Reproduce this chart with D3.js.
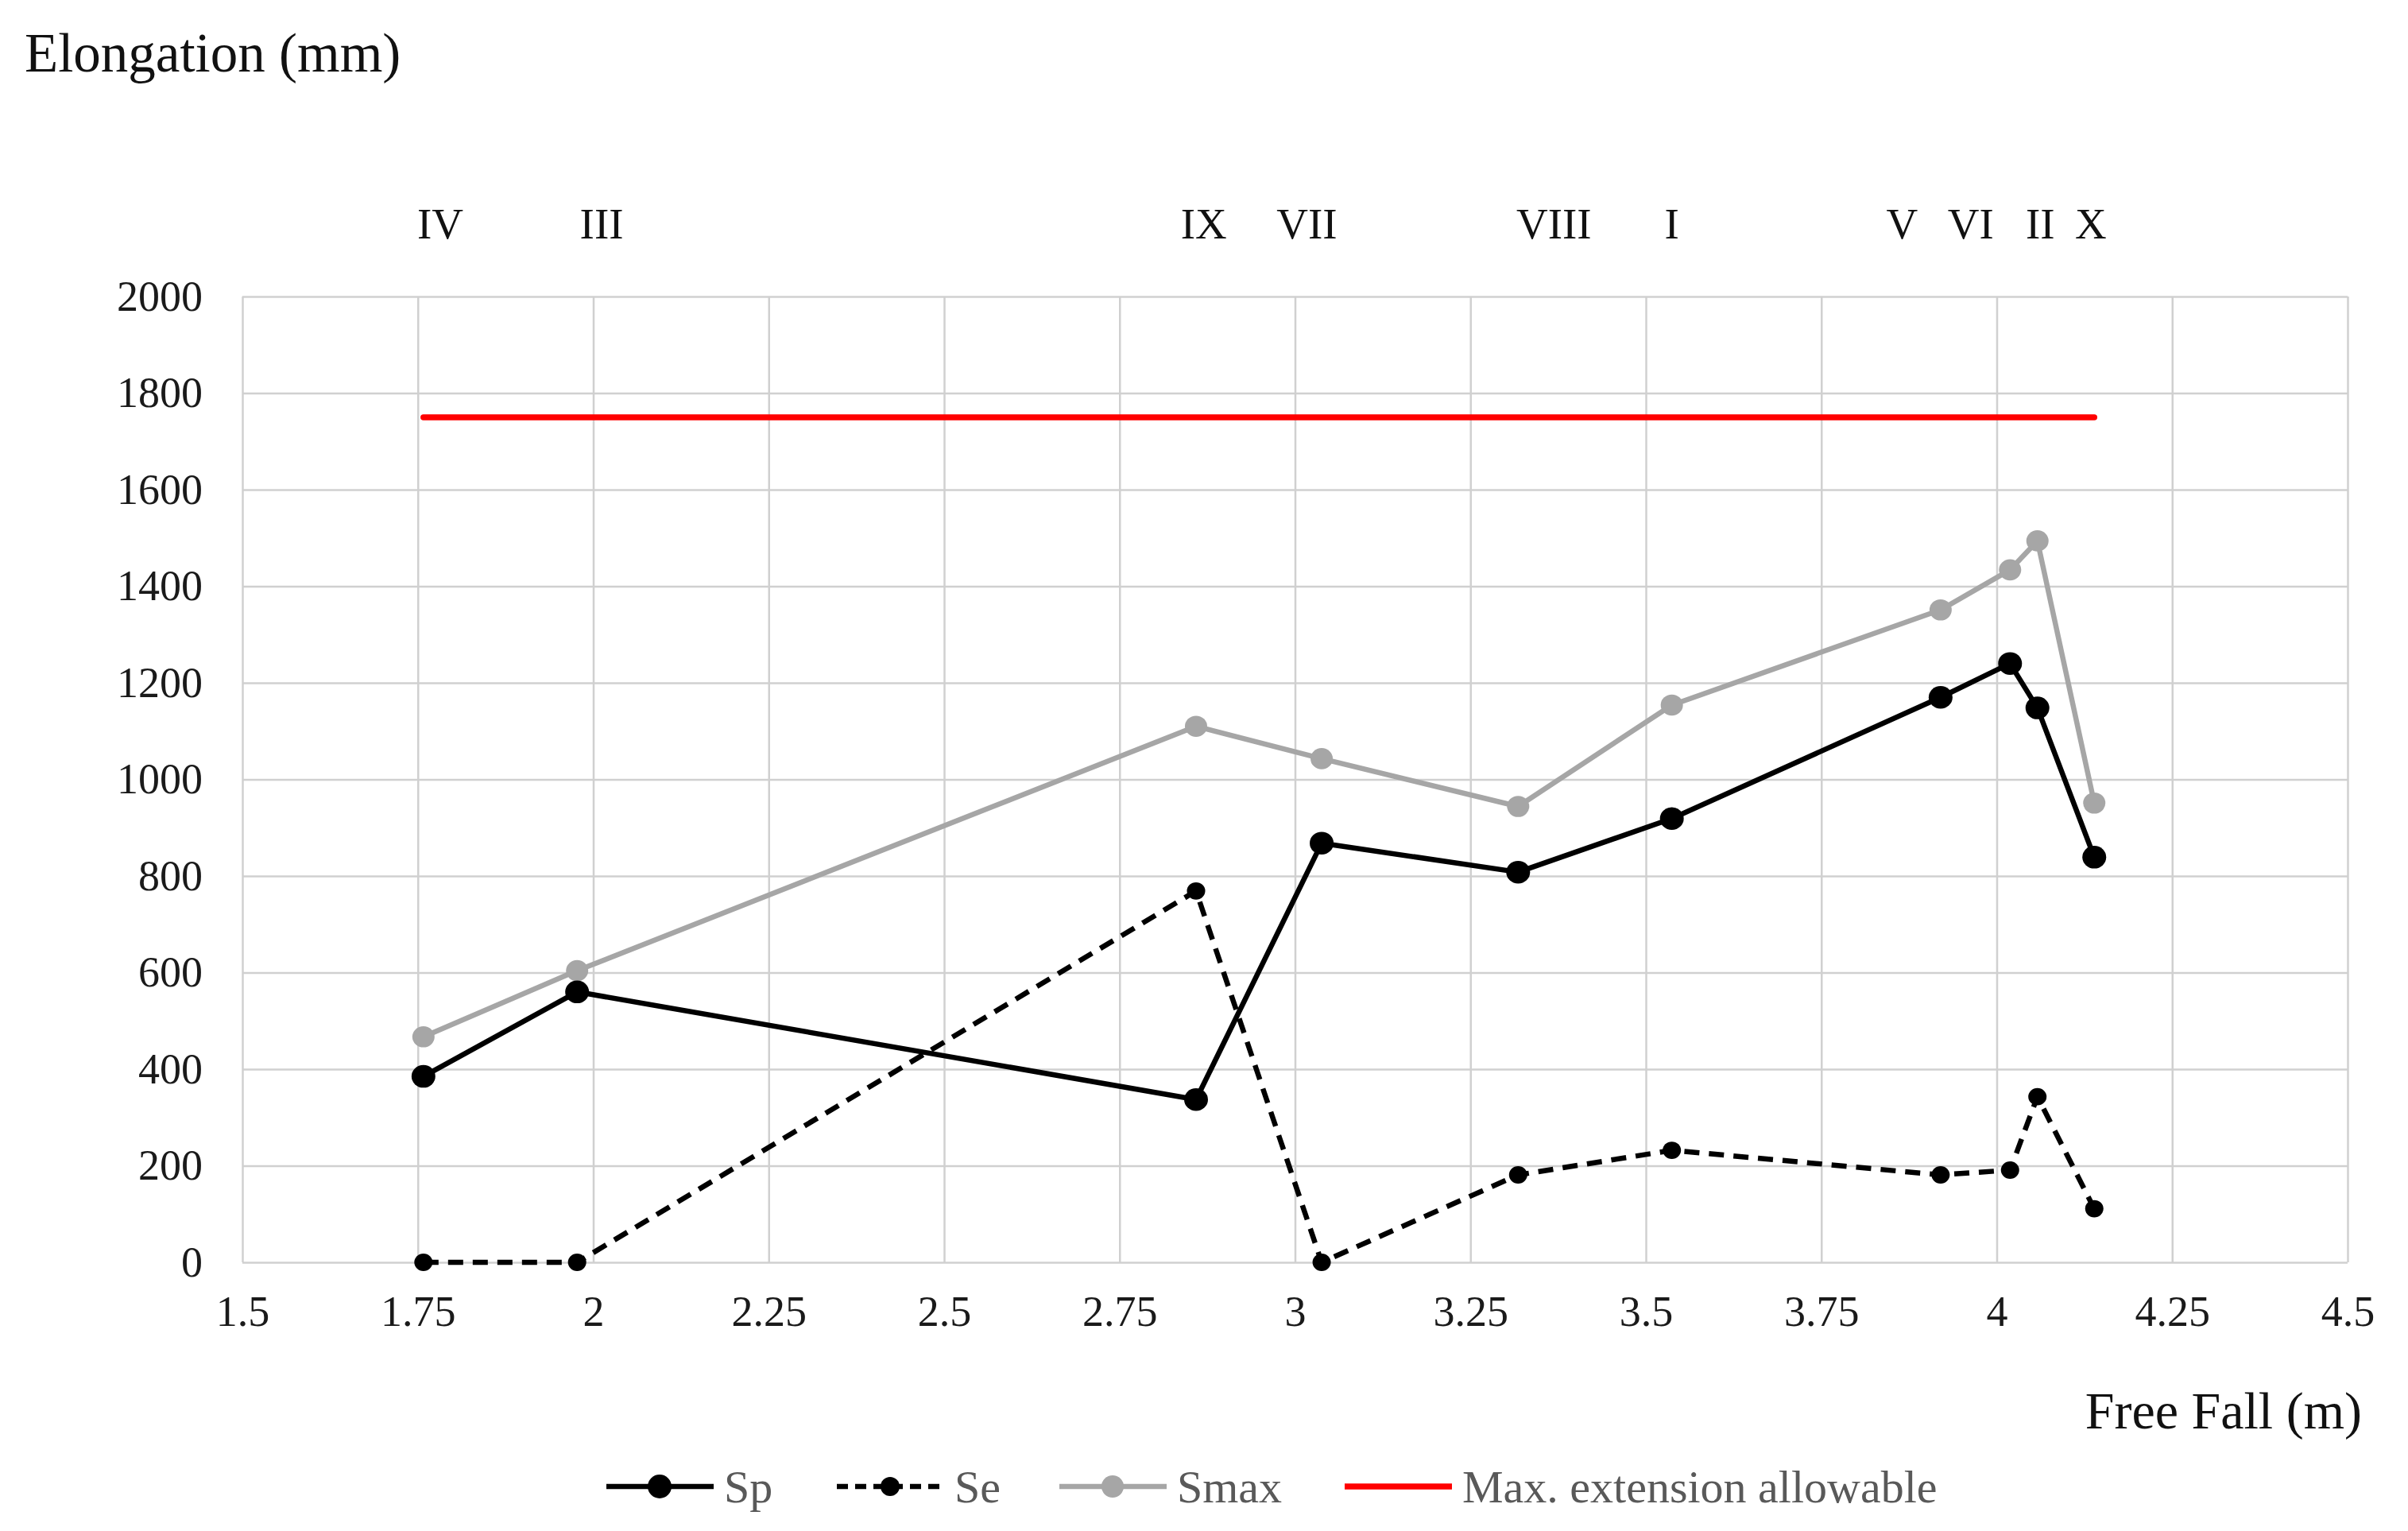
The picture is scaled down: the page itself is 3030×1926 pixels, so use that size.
<!DOCTYPE html>
<html><head><meta charset="utf-8">
<script src="https://cdn.jsdelivr.net/npm/d3@7"></script>
<style>body{margin:0;background:#fff}svg{display:block}</style>
</head><body>
<script>
const fallX = [1.758, 1.977, 2.859, 3.038, 3.318, 3.537, 3.920, 4.019, 4.058, 4.139];
const sp    = [385, 560, 337, 868, 808, 919, 1170, 1240, 1148, 839];
const se    = [0, 0, 769, 0, 181, 232, 181, 191, 343, 111];
const smax  = [467, 604, 1110, 1043, 944, 1154, 1351, 1434, 1494, 951];
const maxAllow = 1750;
const caseLabels = ["IV","III","IX","VII","VIII","I","V","VI","II","X"];
const caseLabelX = [1.782, 2.012, 2.870, 3.017, 3.369, 3.537, 3.865, 3.963, 4.062, 4.134];
const xTicks = [1.5,1.75,2,2.25,2.5,2.75,3,3.25,3.5,3.75,4,4.25,4.5];
const yTicks = [0,200,400,600,800,1000,1200,1400,1600,1800,2000];
const seriesNames = ["Sp","Se","Smax","Max. extension allowable"];

const W=3030,H=1926;
const FONT = "'Liberation Serif', serif";
const svg = d3.select("body").append("svg").attr("width",W).attr("height",H);
const x = d3.scaleLinear().domain([1.5,4.5]).range([305,2954]);
const y = d3.scaleLinear().domain([0,2000]).range([1588,373]);
const grid="#d0d0d0";

// grid
const gy = svg.append("g").attr("transform",`translate(${x.range()[0]},0)`)
  .call(d3.axisLeft(y).tickValues(yTicks).tickSize(-(x.range()[1]-x.range()[0])).tickPadding(50).tickFormat(d=>String(d)));
const gx = svg.append("g").attr("transform",`translate(0,${y.range()[0]})`)
  .call(d3.axisBottom(x).tickValues(xTicks).tickSize(-(y.range()[0]-y.range()[1])).tickPadding(42).tickFormat(d=>String(d)));
[gx,gy].forEach(g=>{
  g.select(".domain").remove();
  g.selectAll("line").attr("stroke",grid).attr("stroke-width",2.5);
  g.selectAll("text").attr("font-family",FONT).attr("font-size",54).attr("fill","#1a1a1a");
});
gx.selectAll("text").attr("dy","0.71em");
gy.selectAll("text").attr("dy","0.32em");

// max allowable line
const ext = d3.extent(fallX);
svg.append("line").attr("x1",x(ext[0])).attr("x2",x(ext[1])).attr("y1",y(maxAllow)).attr("y2",y(maxAllow))
  .attr("stroke","#ff0000").attr("stroke-width",7.5).attr("stroke-linecap","round");

const line = d3.line().x((d,i)=>x(fallX[i])).y(d=>y(d));
function series(vals,color,w,dash,r){
  svg.append("path").attr("d",line(vals)).attr("fill","none").attr("stroke",color)
    .attr("stroke-width",w).attr("stroke-dasharray",dash||null).attr("stroke-linejoin","round");
  svg.append("g").selectAll("ellipse").data(vals).join("ellipse")
    .attr("cx",(d,i)=>x(fallX[i])).attr("cy",d=>y(d)).attr("rx",r).attr("ry",r*0.95).attr("fill",color);
}
series(smax,"#a6a6a6",6.5,null,14);
series(sp,"#000",6.5,null,15);
series(se,"#000",6.5,"19,12",11.5);

// case labels
svg.append("g").selectAll("text").data(caseLabels).join("text")
  .attr("x",(d,i)=>x(caseLabelX[i])).attr("y",300).attr("text-anchor","middle")
  .attr("font-family",FONT).attr("font-size",55).attr("fill","#111").text(d=>d);

// axis titles
svg.append("text").attr("x",31).attr("y",90).attr("font-family",FONT).attr("font-size",69)
  .attr("fill","#111").text("Elongation (mm)");
svg.append("text").attr("x",2972).attr("y",1797).attr("text-anchor","end").attr("font-family",FONT).attr("font-size",66)
  .attr("fill","#111").text("Free Fall (m)");

// legend
const legX = [763, 1053, 1333, 1692];
const leg = svg.append("g");
const legY = 1870;
const styles = [
  {c:"#000",dash:null,r:15,m:true,w:6.5},
  {c:"#000",dash:"14,9",r:12,m:true,w:6.5},
  {c:"#a6a6a6",dash:null,r:14,m:true,w:6.5},
  {c:"#ff0000",dash:null,r:0,m:false,w:7.5}
];
seriesNames.forEach((n,i)=>{
  const s=styles[i], x0=legX[i];
  leg.append("line").attr("x1",x0).attr("x2",x0+135).attr("y1",legY).attr("y2",legY)
    .attr("stroke",s.c).attr("stroke-width",s.w).attr("stroke-dasharray",s.dash);
  if(s.m) leg.append("ellipse").attr("cx",x0+67).attr("cy",legY).attr("rx",s.r).attr("ry",s.r).attr("fill",s.c);
  leg.append("text").attr("x",x0+148).attr("y",legY).attr("dy","0.35em").attr("font-family",FONT)
    .attr("font-size",58).attr("fill","#595959").text(n);
});
</script>
</body></html>
